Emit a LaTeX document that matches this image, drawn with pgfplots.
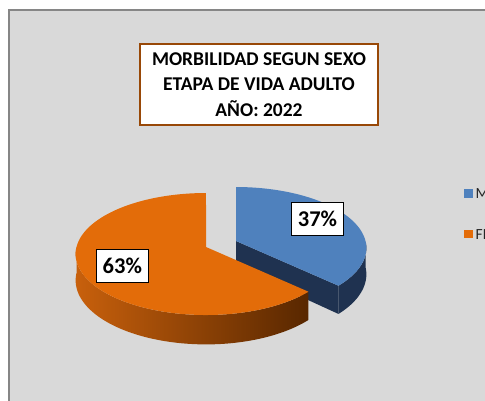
\documentclass[border=0pt]{standalone}
\usepackage{fontspec}
\setmainfont{Carlito}
\usepackage{pgfplots}
\pgfplotsset{compat=1.18}
\usepackage{pgfplotstable}
\definecolor{bgGray}{HTML}{D9D9D9}
\definecolor{frameGray}{HTML}{868686}
\definecolor{blueTop}{HTML}{4F81BD}
\definecolor{blueSide}{HTML}{1F3250}
\definecolor{orTop}{HTML}{E36C09}
\definecolor{orSideL}{HTML}{C8600C}
\definecolor{orSideR}{HTML}{582700}
\definecolor{titleBrown}{HTML}{984807}
\definecolor{legText}{HTML}{262626}

\pgfplotstableread{
sexo value
MASCULINO 37
FEMENINO 63
}\morbtable
\pgfplotstablegetelem{0}{value}\of\morbtable \let\vM\pgfplotsretval
\pgfplotstablegetelem{1}{value}\of\morbtable \let\vF\pgfplotsretval
\pgfmathsetmacro{\aStart}{90}
\pgfmathsetmacro{\aMid}{90-360*\vM/(\vM+\vF)}
\pgfmathsetmacro{\aEnd}{\aStart-360}
% pie centres (apex) and thickness
\def\cxO{206}\def\cyO{153}
\def\cxB{236}\def\cyB{159}
\def\thk{26}

\tikzset{
  declare function={
    kk(\t)=1/(1+0.115*sin(\t));
    pieX(\t)=129.5*cos(\t)*kk(\t);
    pieY(\t)=60.2*sin(\t)*kk(\t);
    sphi(\s,\p,\q)=(\s<=100)*(\p+(\q-\p)*\s/100)+(\s>100)*(\q+(\p-\q)*(\s-101)/100);
    tphi(\s,\p,\q)=\p+(\q-\p)*min(\s,100)/100;
  }
}

\begin{document}
\begin{tikzpicture}
\useasboundingbox (0,0) rectangle (485pt,400pt);
\begin{axis}[
  x=1pt, y=1pt, xmin=0, xmax=485, ymin=0, ymax=400,
  hide axis, clip=false,
]
% chart area
\fill[bgGray] (axis cs:9.2,-20) rectangle (axis cs:520,390);
\draw[frameGray, line width=2.2pt] (axis cs:9.2,-20) -- (axis cs:9.2,390) -- (axis cs:520,390);

% ---- blue slice (MASCULINO), exploded ----
\addplot[fill=blueSide, draw=none, samples at={0,1,...,201}, variable=\u]
 ({\cxB+pieX(sphi(\u,0,\aMid))},
  {\cyB+pieY(sphi(\u,0,\aMid))-(\u>100)*\thk*kk(sphi(\u,0,\aMid))});
\addplot[fill=blueSide, draw=none, samples at={0,1,2,3}, variable=\u]
 ({\cxB+(\u>0.5)*(\u<2.5)*pieX(\aMid)},
  {\cyB+(\u>0.5)*(\u<2.5)*pieY(\aMid)-(\u>1.5)*\thk*(1+(\u<2.5)*(kk(\aMid)-1))});
\addplot[fill=blueTop, draw=none, samples at={0,1,...,101}, variable=\u]
 ({\cxB+(\u<=100)*pieX(tphi(\u,\aStart,\aMid))},
  {\cyB+(\u<=100)*pieY(tphi(\u,\aStart,\aMid))});

% ---- orange slice (FEMENINO) ----
\addplot[left color=orSideL, right color=orSideR, draw=none, samples at={0,1,...,201}, variable=\u]
 ({\cxO+pieX(sphi(\u,-180,\aMid))},
  {\cyO+pieY(sphi(\u,-180,\aMid))-(\u>100)*\thk*kk(sphi(\u,-180,\aMid))});
\addplot[fill=orTop, draw=none, samples at={0,1,...,101}, variable=\u]
 ({\cxO+(\u<=100)*pieX(tphi(\u,\aMid,\aEnd))},
  {\cyO+(\u<=100)*pieY(tphi(\u,\aMid,\aEnd))});

% data labels
\node[draw=black, line width=1.3pt, fill=white, minimum width=52pt, minimum height=33pt,
      inner sep=0pt, font=\fontsize{22.5}{27}\selectfont\bfseries] at (axis cs:317.5,181.3) {\vM\%};
\node[draw=black, line width=1.3pt, fill=white, minimum width=52pt, minimum height=33pt,
      inner sep=0pt, font=\fontsize{22.5}{27}\selectfont\bfseries] at (axis cs:122.3,134) {\vF\%};

% title
\node[draw=titleBrown, line width=1.6pt, fill=white, minimum width=238pt, minimum height=81pt,
      inner sep=0pt, align=center, font=\fontsize{19.5}{25.7}\selectfont\bfseries]
  at (axis cs:259,315.5) {MORBILIDAD SEGUN SEXO\\ETAPA DE VIDA ADULTO\\AÑO: 2022};

% legend (cut off at the right edge, as in the reference)
\fill[blueTop] (axis cs:464.3,202.2) rectangle (axis cs:473.3,211);
\fill[orTop] (axis cs:464.3,161.6) rectangle (axis cs:473.3,170);
\node[overlay, anchor=west, inner sep=0pt, text=legText, font=\fontsize{15.5}{18}\selectfont] at (axis cs:475.5,206.6) {MASCULINO};
\node[overlay, anchor=west, inner sep=0pt, text=legText, font=\fontsize{15.5}{18}\selectfont] at (axis cs:475.5,165.8) {FEMENINO};
\end{axis}
\end{tikzpicture}
\end{document}
